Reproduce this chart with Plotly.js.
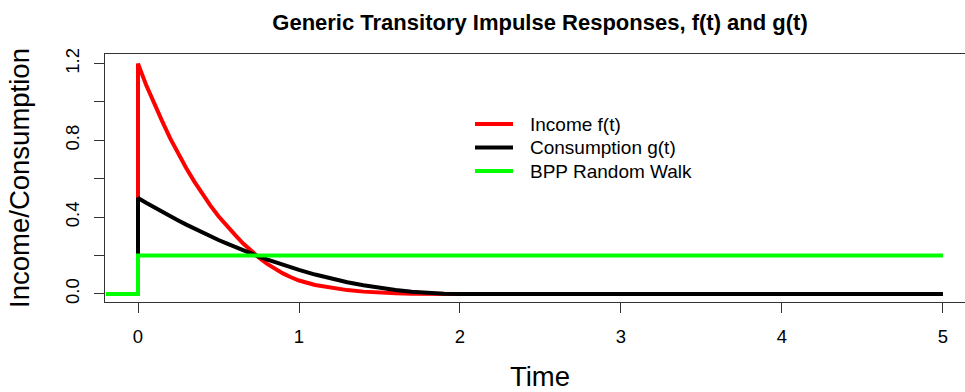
<!DOCTYPE html>
<html>
<head>
<meta charset="utf-8">
<script src="https://cdn.plot.ly/plotly-3.0.1.min.js"></script>
<style>
  html, body { margin: 0; padding: 0; background: #fff; overflow: hidden; width: 965px; height: 392px; }
  #chart { width: 985px; height: 392px; }
</style>
</head>
<body>
<div id="chart"></div>
<script>
// ---- data ----
const timeF = [0, 0, 0.05, 0.10, 0.15, 0.20, 0.25, 0.30, 0.35, 0.40, 0.45, 0.50,
               0.55, 0.60, 0.65, 0.70, 0.75, 0.80, 0.85, 0.90, 0.95, 1.00,
               1.1, 1.2, 1.3, 1.4, 1.5, 1.6, 1.7, 1.8, 1.9, 2.0, 5];
const income = [0, 1.2, 1.09, 0.99, 0.90, 0.81, 0.73, 0.655, 0.585, 0.52, 0.46, 0.405,
                0.355, 0.31, 0.265, 0.225, 0.19, 0.158, 0.13, 0.107, 0.087, 0.07,
                0.047, 0.032, 0.020, 0.012, 0.006, 0.003, 0.001, 0, 0, 0, 0];
const consumption = [0, 0.5, 0.475, 0.451, 0.428, 0.405, 0.383, 0.361, 0.340, 0.320, 0.300, 0.281,
                     0.263, 0.245, 0.228, 0.211, 0.195, 0.180, 0.165, 0.151, 0.138, 0.125,
                     0.101, 0.080, 0.061, 0.045, 0.031, 0.020, 0.011, 0.005, 0.001, 0, 0];
const timeG = [-0.2, 0, 0, 5];
const bppRandomWalk = [0, 0, 0.2, 0.2];

const seriesNames = ['Income f(t)', 'Consumption g(t)', 'BPP Random Walk'];
const seriesColors = ['#FF0000', '#000000', '#00FF00'];
const xTickVals = [0, 1, 2, 3, 4, 5];
const yTickVals = [0, 0.2, 0.4, 0.6, 0.8, 1.0, 1.2];
const yTickText = ['0.0', '', '0.4', '', '0.8', '', '1.2'];

const FONT = 'Liberation Sans, Arial, Helvetica, sans-serif';
const TICK = 18.5;

// plot-area geometry (pixels) used for placing the legend in paper units
const PL = 105, PW = 870, PT = 54, PH = 248;
const px = v => (v - PL) / PW;
const py = v => 1 - (v - PT) / PH;

const traces = [
  { x: timeF, y: income, name: seriesNames[0], type: 'scatter', mode: 'lines',
    line: { color: seriesColors[0], width: 4 } },
  { x: timeF, y: consumption, name: seriesNames[1], type: 'scatter', mode: 'lines',
    line: { color: seriesColors[1], width: 4 } },
  { x: timeG, y: bppRandomWalk, name: seriesNames[2], type: 'scatter', mode: 'lines',
    line: { color: seriesColors[2], width: 4 } }
];

// legend drawn as in the base-R original: short line + label, no box
const legendRows = [124, 147.5, 171];
const shapes = legendRows.map((r, i) => ({
  type: 'line', xref: 'paper', yref: 'paper',
  x0: px(475), x1: px(513), y0: py(r), y1: py(r),
  line: { color: seriesColors[i], width: 4 }
}));
const annotations = legendRows.map((r, i) => ({
  xref: 'paper', yref: 'paper', x: px(528), y: py(r),
  xanchor: 'left', yanchor: 'middle', showarrow: false,
  text: seriesNames[i], font: { family: FONT, size: 19, color: '#000' }
}));

const layout = {
  width: 985, height: 392,
  margin: { l: PL, r: 985 - PL - PW, t: PT, b: 392 - PT - PH, pad: 0 },
  paper_bgcolor: '#fff', plot_bgcolor: '#fff',
  font: { family: FONT, color: '#000', size: TICK },
  title: {
    text: '<b>Generic Transitory Impulse Responses, f(t) and g(t)</b>',
    font: { family: FONT, size: 22, color: '#000' },
    xref: 'container', x: 540 / 985, xanchor: 'center',
    yref: 'container', y: 1 - 22 / 392, yanchor: 'middle'
  },
  xaxis: {
    range: [-0.205, 5.199], tickvals: xTickVals, ticktext: xTickVals.map(String),
    ticks: 'outside', ticklen: 10, tickwidth: 1, tickcolor: '#333',
    showline: true, mirror: true, linecolor: '#333', linewidth: 1,
    showgrid: false, zeroline: false,
    tickfont: { family: FONT, size: TICK, color: '#000' },
    ticklabelstandoff: 8,
    title: { text: 'Time', font: { family: FONT, size: 27.5, color: '#000' }, standoff: 26 }
  },
  yaxis: {
    range: [-0.042, 1.25], tickvals: yTickVals, ticktext: yTickText, tickangle: -90,
    ticks: 'outside', ticklen: 10, tickwidth: 1, tickcolor: '#333',
    showline: true, mirror: true, linecolor: '#333', linewidth: 1,
    showgrid: false, zeroline: false,
    tickfont: { family: FONT, size: TICK, color: '#000' },
    ticklabelstandoff: 8,
    title: { text: 'Income/Consumption', font: { family: FONT, size: 27.5, color: '#000' }, standoff: 23 }
  },
  showlegend: false,
  shapes: shapes,
  annotations: annotations
};

Plotly.newPlot('chart', traces, layout, { staticPlot: true, displayModeBar: false });
</script>
</body>
</html>
